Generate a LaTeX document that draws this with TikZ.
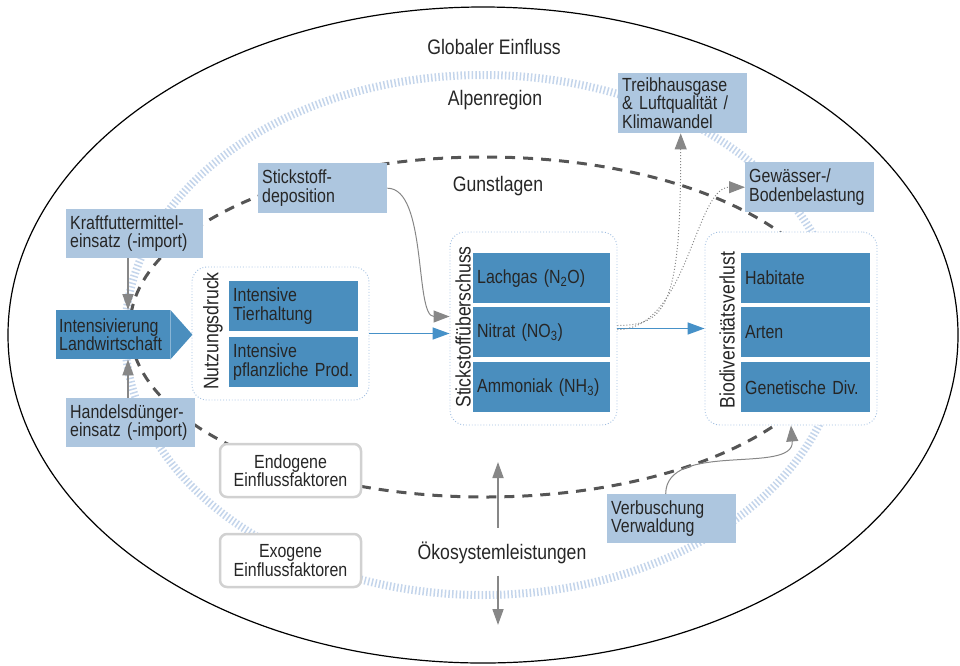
\documentclass[tikz,border=0pt]{standalone}
\usepackage{fontspec}
\setmainfont{Liberation Sans}[FakeStretch=0.84]
\usetikzlibrary{arrows.meta}
\definecolor{lightblue}{RGB}{173,198,223}
\definecolor{darkblue}{RGB}{74,142,190}
\definecolor{groupblue}{RGB}{160,190,225}
\definecolor{hatchblue}{RGB}{196,213,235}
\definecolor{dashgray}{RGB}{85,85,85}
\definecolor{arrowgray}{RGB}{135,135,135}
\definecolor{linkblue}{RGB}{70,145,200}

\begin{document}
\begin{tikzpicture}[
    x=1pt, y=-1pt,
    every node/.style={font=\fontsize{19}{18.3}\selectfont, text=black!85},
    LabelText/.style={font=\fontsize{21}{21}\selectfont},
    LightShape/.style={rectangle, anchor=north west, fill=lightblue, align=left,
        inner xsep=4pt, inner ysep=0pt, minimum height=50pt, text width=121pt},
    DarkShape/.style={LightShape, fill=darkblue},
    GroupShape/.style={rectangle, rounded corners=15pt, draw=groupblue,
        dotted, line width=0.9pt, fill=white},
    FactorShape/.style={rectangle, rounded corners=7pt, draw=black!18,
        line width=2.5pt, fill=white, align=center,
        minimum width=141pt, minimum height=53pt},
    GroupLabel/.style={LabelText, rotate=90, inner sep=0pt},
    RegionLine/.style={draw=hatchblue, line width=8pt,
        dash pattern=on 1.5pt off 2.2pt},
    FavourLine/.style={draw=dashgray, line width=3pt,
        dash pattern=on 10pt off 8pt},
    GrayArrow/.style={draw=arrowgray, line width=1.8pt,
        -{Triangle[width=11pt,length=16pt]}},
    ThinArrow/.style={draw=arrowgray, line width=1pt,
        -{Triangle[width=12pt,length=16pt]}},
    DotArrow/.style={ThinArrow, dotted},
    BlueArrow/.style={draw=linkblue, line width=1.5pt,
        -{Triangle[width=12pt,length=17pt]}}
]
\useasboundingbox (0,0) rectangle (960,665);
\draw[black, line width=1.2pt] (483,335) ellipse [x radius=475, y radius=328];
\draw[RegionLine] (483,335) ellipse [x radius=358, y radius=260];
\draw[FavourLine] (485,327) ellipse [x radius=355, y radius=170];

\node (global) [LabelText] at (494,47) {Globaler Einfluss};
\node (alpen) [LabelText] at (495,100) {Alpenregion};
\node (gunst) [LabelText] at (498,186) {Gunstlagen};
\node (oeko) [LabelText] at (502,553) {Ökosystemleistungen};

\node (nutz) [GroupShape, minimum width=177pt, minimum height=133pt] at (280.5,333.5) {};
\node (stick) [GroupShape, minimum width=167pt, minimum height=193pt] at (533.5,328.5) {};
\node (bio) [GroupShape, minimum width=172pt, minimum height=193pt] at (791,328.5) {};
\node (nutzlabel) [GroupLabel] at (213,331) {Nutzungsdruck};
\node (sticklabel) [GroupLabel] at (463,327) {Stickstoffüberschuss};
\node (biolabel) [GroupLabel] at (727,330) {Biodiversitätsverlust};

\node (tier) [DarkShape] at (229,281) {Intensive\\Tierhaltung};
\node (pflanz) [DarkShape] at (229,337) {Intensive\\pflanzliche Prod.};
\node (lachgas) [DarkShape, text width=129pt] at (473,253) {Lachgas (N\textsubscript{2}O)};
\node (nitrat) [DarkShape, text width=129pt] at (473,307) {Nitrat (NO\textsubscript{3})};
\node (ammoniak) [DarkShape, text width=129pt] at (473,362) {Ammoniak (NH\textsubscript{3})};
\node (habitate) [DarkShape] at (741,253) {Habitate};
\node (arten) [DarkShape] at (741,307) {Arten};
\node (genetik) [DarkShape] at (741,362) {Genetische Div.};

\node (treib) [LightShape, minimum height=60pt] at (618,73) {Treibhausgase\\\& Luftqualität /\\Klimawandel};
\node (gewaesser) [LightShape] at (745,162) {Gewässer-/\\Bodenbelastung};
\node (depo) [LightShape] at (258,163) {Stickstoff-\\deposition};
\node (kraft) [LightShape, text width=129pt, minimum height=49pt] at (66,209) {Kraftfuttermittel-\\einsatz (-import)};
\node (handel) [LightShape, minimum height=49pt] at (66,398) {Handelsdünger-\\einsatz (-import)};
\node (verb) [LightShape, minimum height=49pt] at (607,494) {Verbuschung\\Verwaldung};

\node (intens) [DarkShape, text width=108pt, inner xsep=3pt, minimum height=49pt] at (56,310) {Intensivierung\\Landwirtschaft};
\fill[darkblue] (intens.north east) -- ([xshift=22pt]intens.east) -- (intens.south east) -- cycle;

\node (endo) [FactorShape] at (290.5,470.5) {Endogene\\Einflussfaktoren};
\node (exo) [FactorShape] at (290.5,560.5) {Exogene\\Einflussfaktoren};

\coordinate (feed) at (128,0);
\coordinate (oekoup) at (498,462);
\coordinate (oekodown) at (498,625);
\draw[GrayArrow] (kraft.south -| feed) -- (intens.north -| feed);
\draw[GrayArrow] (handel.north -| feed) -- (intens.south -| feed);
\draw[BlueArrow] (nutz.east) -- (nutz.east -| stick.west);
\draw[BlueArrow] (stick.east) -- (bio.west);
\draw[ThinArrow] (depo.east) .. controls +(40,0) and +(-35,0) .. ([yshift=12pt]stick.west);
\draw[DotArrow] ([yshift=3pt]stick.east) .. controls +(50,0) and +(0,170) .. ([xshift=-2pt]treib.south);
\draw[DotArrow] ([yshift=-1pt]stick.east) .. controls +(70,0) and +(-50,0) .. (gewaesser.west);
\draw[ThinArrow] ([xshift=-6pt]verb.north) .. controls +(0,-54) and +(4,50) .. (bio.south);
\draw[GrayArrow, shorten <=11pt] (oeko.north -| oekoup) -- (oekoup);
\draw[GrayArrow, shorten <=8pt] (oeko.south -| oekodown) -- (oekodown);
\end{tikzpicture}
\end{document}
